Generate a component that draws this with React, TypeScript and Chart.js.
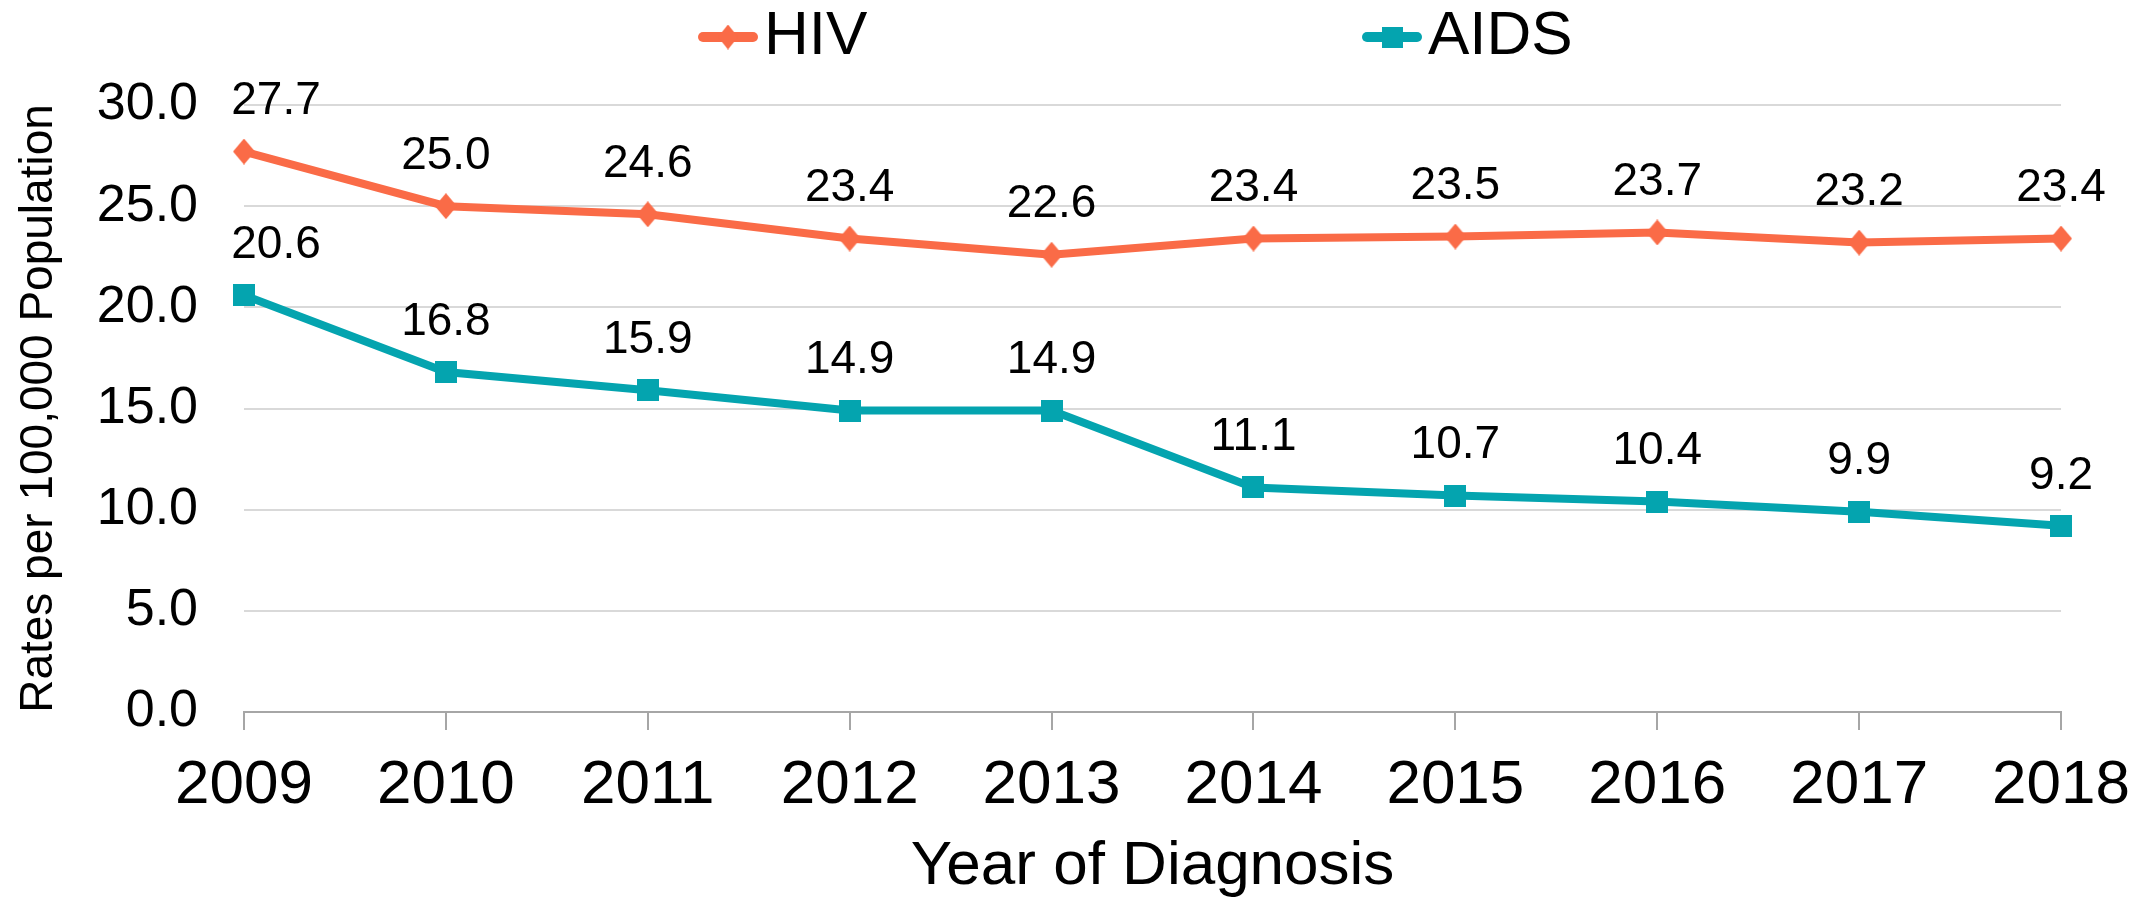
import React, { useEffect, useRef } from 'react';
import { Chart, registerables } from 'chart.js';

Chart.register(...registerables);

// ---- Data ----
const years = ['2009', '2010', '2011', '2012', '2013', '2014', '2015', '2016', '2017', '2018'];
const hivRates = [27.7, 25.0, 24.6, 23.4, 22.6, 23.4, 23.5, 23.7, 23.2, 23.4];
const aidsRates = [20.6, 16.8, 15.9, 14.9, 14.9, 11.1, 10.7, 10.4, 9.9, 9.2];
const seriesNames = ['HIV', 'AIDS'];
const yAxisTitle = 'Rates per 100,000 Population';
const xAxisTitle = 'Year of Diagnosis';
const yMin = 0;
const yMax = 30;
const yStep = 5;

// ---- Styles ----
const FONT = '"Liberation Sans", Arial, Helvetica, sans-serif';
const HIV_COLOR = '#FA6B47';
const AIDS_COLOR = '#04A4AF';
const W = 2149;
const H = 901;

function makeDiamond(color: string, w: number, h: number) {
  const c = document.createElement('canvas');
  c.width = w;
  c.height = h;
  const g = c.getContext('2d')!;
  g.fillStyle = color;
  g.beginPath();
  g.moveTo(w / 2, 0);
  g.lineTo(w, h / 2);
  g.lineTo(w / 2, h);
  g.lineTo(0, h / 2);
  g.closePath();
  g.fill();
  return c;
}

function makeSquare(color: string, s: number) {
  const c = document.createElement('canvas');
  c.width = s;
  c.height = s;
  const g = c.getContext('2d')!;
  g.fillStyle = color;
  g.fillRect(0, 0, s, s);
  return c;
}

export default function App() {
  const ref = useRef<HTMLCanvasElement | null>(null);

  useEffect(() => {
    document.body.style.margin = '0';
    const canvas = ref.current;
    if (!canvas) return;

    const diamond = makeDiamond(HIV_COLOR, 22, 26);
    const square = makeSquare(AIDS_COLOR, 22);
    const legendDiamond = makeDiamond(HIV_COLOR, 20, 25);
    const legendSquare = makeSquare(AIDS_COLOR, 21);

    const legendPlugin = {
      id: 'customLegend',
      afterDraw(chart: any) {
        const ctx = chart.ctx as CanvasRenderingContext2D;
        const area = chart.chartArea;
        const cy = 37;
        const items = [
          { label: seriesNames[0], color: HIV_COLOR, marker: legendDiamond, x: area.left + 454 },
          { label: seriesNames[1], color: AIDS_COLOR, marker: legendSquare, x: area.left + 1118 },
        ];
        ctx.save();
        items.forEach((it) => {
          ctx.strokeStyle = it.color;
          ctx.lineWidth = 10;
          ctx.lineCap = 'round';
          ctx.beginPath();
          ctx.moveTo(it.x + 5, cy);
          ctx.lineTo(it.x + 55, cy);
          ctx.stroke();
          ctx.drawImage(it.marker, it.x + 30 - it.marker.width / 2, cy - it.marker.height / 2);
          ctx.fillStyle = '#000';
          ctx.font = `62px ${FONT}`;
          ctx.textAlign = 'left';
          ctx.textBaseline = 'middle';
          ctx.fillText(it.label, it.x + 66, cy);
        });
        ctx.restore();
      },
    };

    const labelPlugin = {
      id: 'pointValues',
      afterDatasetsDraw(chart: any) {
        const ctx = chart.ctx as CanvasRenderingContext2D;
        ctx.save();
        ctx.fillStyle = '#000';
        ctx.font = `46px ${FONT}`;
        ctx.textAlign = 'center';
        ctx.textBaseline = 'middle';
        chart.data.datasets.forEach((ds: any, di: number) => {
          const meta = chart.getDatasetMeta(di);
          meta.data.forEach((pt: any, i: number) => {
            const v = ds.data[i] as number;
            const dx = i === 0 ? 32 : 0;
            ctx.fillText(v.toFixed(1), pt.x + dx, pt.y - 50);
          });
        });
        ctx.restore();
      },
    };

    const chart = new Chart(canvas, {
      type: 'line',
      data: {
        labels: years,
        datasets: [
          {
            label: seriesNames[0],
            data: hivRates,
            borderColor: HIV_COLOR,
            backgroundColor: HIV_COLOR,
            borderWidth: 8,
            pointStyle: diamond as any,
            pointRadius: 12,
            tension: 0,
            clip: false as any,
          },
          {
            label: seriesNames[1],
            data: aidsRates,
            borderColor: AIDS_COLOR,
            backgroundColor: AIDS_COLOR,
            borderWidth: 8,
            pointStyle: square as any,
            pointRadius: 12,
            tension: 0,
            clip: false as any,
          },
        ],
      },
      options: {
        responsive: false,
        animation: false,
        devicePixelRatio: 1,
        events: [],
        layout: { padding: { top: 105, right: 82, left: 0, bottom: 0 } },
        plugins: {
          legend: { display: false },
          tooltip: { enabled: false },
        },
        scales: {
          x: {
            type: 'category',
            offset: false,
            grid: {
              display: true,
              drawOnChartArea: false,
              drawTicks: true,
              tickLength: 18,
              color: '#A6A6A6',
              lineWidth: 2,
            },
            border: { display: true, color: '#A6A6A6', width: 2 },
            ticks: {
              color: '#000',
              padding: 19,
              maxRotation: 0,
              autoSkip: false,
              font: { family: FONT, size: 62 },
            },
            title: {
              display: true,
              text: xAxisTitle,
              color: '#000',
              font: { family: FONT, size: 62, lineHeight: 1.1 },
              padding: { top: 0, bottom: 0 },
            },
            afterFit: (scale: any) => {
              scale.height = 189;
            },
          },
          y: {
            min: yMin,
            max: yMax,
            grid: { color: '#D9D9D9', lineWidth: 2, drawTicks: false },
            border: { display: false },
            ticks: {
              stepSize: yStep,
              color: '#000',
              padding: 46,
              font: { family: FONT, size: 52 },
              callback: (v: any) => Number(v).toFixed(1),
            },
            title: {
              display: true,
              text: yAxisTitle,
              color: '#000',
              font: { family: FONT, size: 46 },
              padding: { top: 12, bottom: 0 },
            },
            afterFit: (scale: any) => {
              scale.width = 244;
            },
          },
        },
      },
      plugins: [legendPlugin, labelPlugin],
    });

    return () => {
      chart.destroy();
    };
  }, []);

  return <canvas ref={ref} width={W} height={H} style={{ display: 'block' }} />;
}
